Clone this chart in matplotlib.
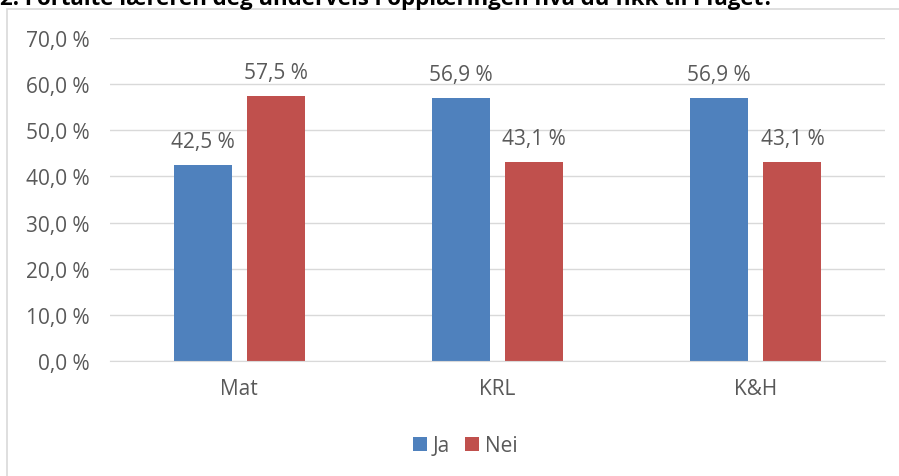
import matplotlib.pyplot as plt
from matplotlib.patches import Rectangle
import numpy as np

categories = ["Mat", "KRL", "K&H"]
ja_values = [42.5, 56.9, 56.9]
nei_values = [57.5, 43.1, 43.1]
series_names = ["Ja", "Nei"]
y_ticks = [0, 10, 20, 30, 40, 50, 60, 70]
title = "2. Fortalte læreren deg underveis i opplæringen hva du fikk til i faget?"

BLUE = "#4F81BD"
RED = "#C0504D"
GREY_TXT = "#595959"
GRID = "#D9D9D9"
FS = 15


def pct(v):
    return f"{v:.1f}".replace(".", ",") + " %"


plt.rcParams["font.family"] = ["Open Sans", "DejaVu Sans"]

fig = plt.figure(figsize=(8.99, 4.77), dpi=100)
ax = fig.add_axes([110 / 899, 1 - 362 / 477, 775 / 899, 323 / 477])

# chart border
fig.patches.append(Rectangle((7 / 899, -0.01), 1.0, 1 - 10 / 477 + 0.01,
                             transform=fig.transFigure, fill=False,
                             edgecolor=GRID, linewidth=1.2))

x = np.arange(len(categories))
w = 0.225
off = 0.1415
b1 = ax.bar(x - off, ja_values, w, color=BLUE, label=series_names[0], zorder=3)
b2 = ax.bar(x + off, nei_values, w, color=RED, label=series_names[1], zorder=3)

for bars, vals in ((b1, ja_values), (b2, nei_values)):
    for rect, v in zip(bars, vals):
        ax.annotate(pct(v), (rect.get_x() + rect.get_width() / 2, v),
                    xytext=(0, 13), textcoords="offset points",
                    ha="center", va="baseline", fontsize=FS, color=GREY_TXT)

ax.set_xlim(-0.5, len(categories) - 0.5)
ax.set_ylim(0, 70)
ax.set_yticks(y_ticks)
ax.set_yticklabels([pct(v) for v in y_ticks], fontsize=FS, color=GREY_TXT)
ax.set_xticks(x)
ax.set_xticklabels(categories, fontsize=FS, color=GREY_TXT)
ax.tick_params(axis="y", length=0, pad=15)
ax.tick_params(axis="x", length=0, pad=12)
ax.grid(axis="y", color=GRID, linewidth=1, zorder=0)
for s in ("top", "right", "left"):
    ax.spines[s].set_visible(False)
ax.spines["bottom"].set_color(GRID)
ax.spines["bottom"].set_zorder(4)

ax.legend(loc="center", bbox_to_anchor=(465 / 899, 1 - 447 / 477),
          bbox_transform=fig.transFigure, ncol=2, frameon=False,
          fontsize=FS, labelcolor=GREY_TXT, handlelength=0.67, handleheight=0.67,
          handletextpad=0.3, columnspacing=0.7)

fig.text(0.0, 1 - 4.5 / 477, title, fontsize=16, fontweight="bold",
         ha="left", va="baseline", color="black")

fig.savefig("out.png", dpi=100)
